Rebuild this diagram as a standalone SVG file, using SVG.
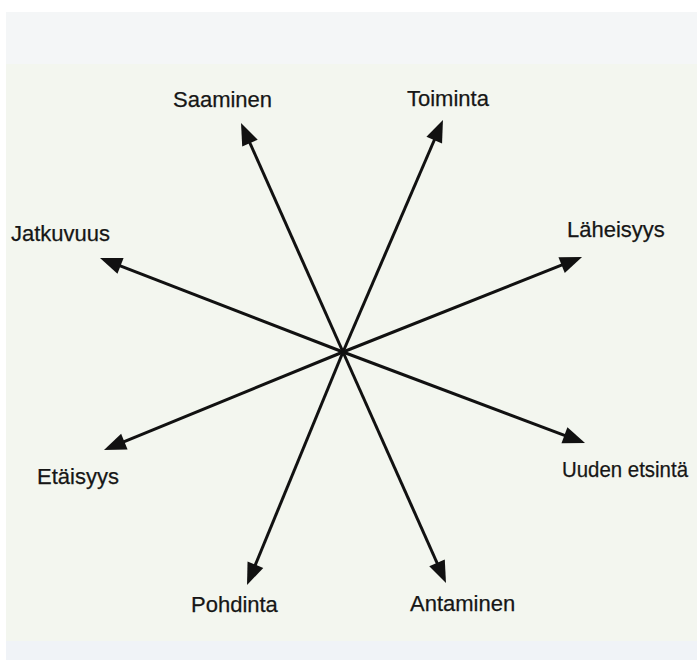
<svg xmlns="http://www.w3.org/2000/svg" width="697" height="660" viewBox="0 0 697 660">
<style>
.lbl{font-family:"Liberation Sans",Arial,sans-serif;font-size:22px;fill:#161616;stroke:#161616;stroke-width:0.25}
.ar{stroke:#111;stroke-width:3;fill:none;marker-end:url(#ah)}
</style>
<defs>
<marker id="ah" markerUnits="userSpaceOnUse" viewBox="-12 -10 26 20" refX="0" refY="0" markerWidth="26" markerHeight="20" orient="auto" overflow="visible">
<path d="M-10,-8.5 L12,0 L-10,8.5 Z" fill="#111"/>
</marker>
</defs>
<rect x="0" y="0" width="697" height="660" fill="#ffffff"/>
<rect x="6" y="12" width="691" height="52" fill="#f4f6f7"/>
<rect x="6" y="64" width="691" height="577" fill="#f3f6ef"/>
<rect x="6" y="641" width="691" height="19" fill="#f0f3f7"/>
<g id="connectors">
<line class="ar" x1="343" y1="352" x2="245.9" y2="134"/>
<line class="ar" x1="343" y1="352" x2="438.2" y2="131"/>
<line class="ar" x1="343" y1="352" x2="111.2" y2="262.3"/>
<line class="ar" x1="343" y1="352" x2="570.9" y2="261.4"/>
<line class="ar" x1="343" y1="352" x2="115.1" y2="445.4"/>
<line class="ar" x1="343" y1="352" x2="573.8" y2="438.8"/>
<line class="ar" x1="343" y1="352" x2="251.6" y2="573.9"/>
<line class="ar" x1="343" y1="352" x2="441.1" y2="572"/>
</g>
<g id="saaminen"><text class="lbl" x="173" y="107">Saaminen</text></g>
<g id="toiminta"><text class="lbl" x="407" y="106">Toiminta</text></g>
<g id="jatkuvuus"><text class="lbl" x="11" y="241">Jatkuvuus</text></g>
<g id="laheisyys"><text class="lbl" x="567" y="237">Läheisyys</text></g>
<g id="etaisyys"><text class="lbl" x="37" y="484">Etäisyys</text></g>
<g id="uuden"><text class="lbl" x="562" y="477" textLength="126" lengthAdjust="spacingAndGlyphs">Uuden etsintä</text></g>
<g id="pohdinta"><text class="lbl" x="191" y="612">Pohdinta</text></g>
<g id="antaminen"><text class="lbl" x="410" y="611">Antaminen</text></g>
</svg>
